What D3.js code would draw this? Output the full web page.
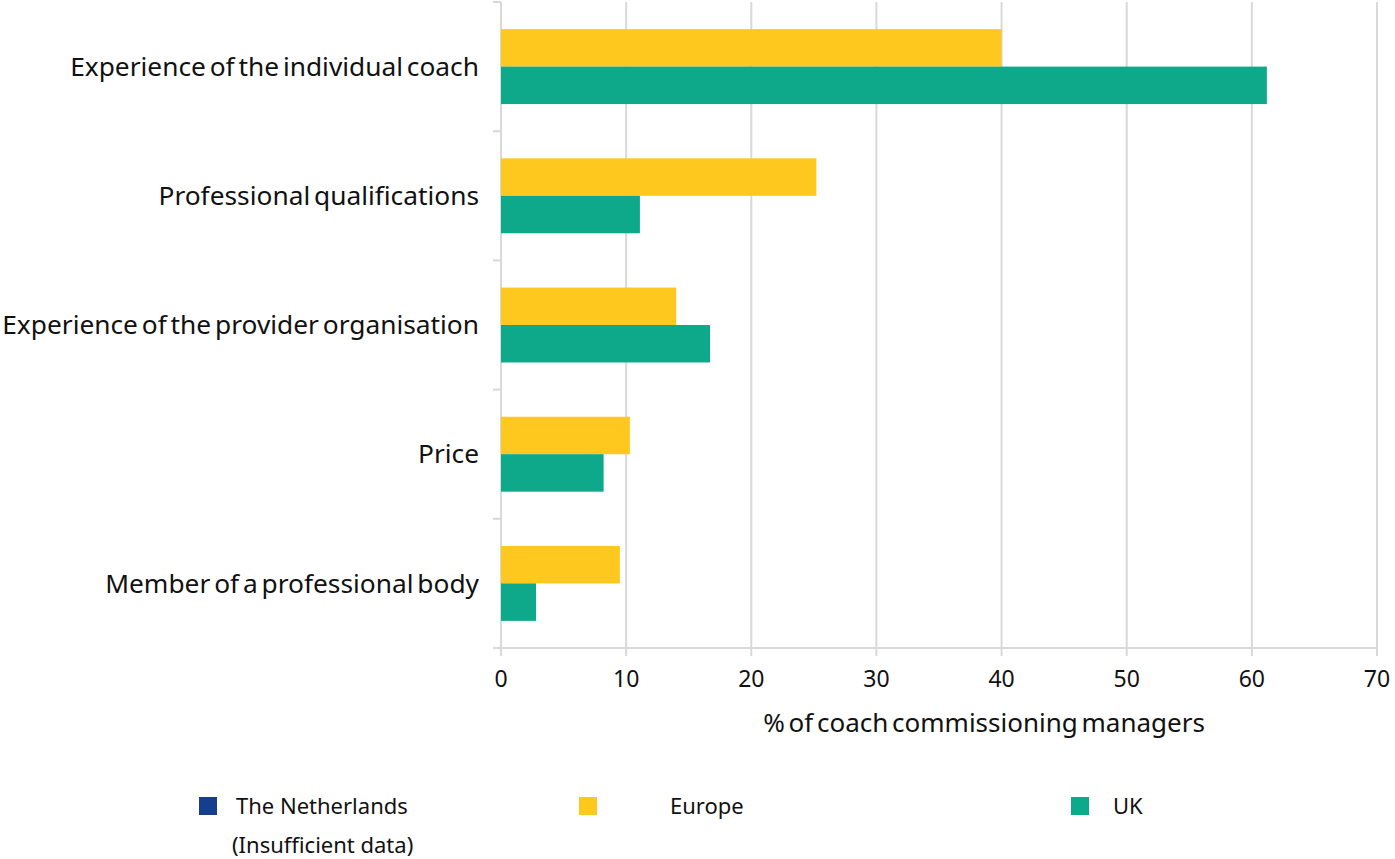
<!DOCTYPE html>
<html>
<head>
<meta charset="utf-8">
<script src="https://cdn.jsdelivr.net/npm/d3@7"></script>
<style>
  body { margin: 0; background: #fff; }
  svg { font-family: "Noto Sans", sans-serif; }
</style>
</head>
<body>
<svg id="chart" width="1395" height="859"></svg>
<script>
// values
const categories = [
  'Experience of the individual coach',
  'Professional qualifications',
  'Experience of the provider organisation',
  'Price',
  'Member of a professional body'
]
const series = ['Europe', 'UK']
const europe = [40.0, 25.2, 14.0, 10.3, 9.5]
const uk = [61.2, 11.1, 16.7, 8.2, 2.8]
const xTicks = [0, 10, 20, 30, 40, 50, 60, 70]
const legendItems = [
  { label: 'The Netherlands', sub: '(Insufficient data)', color: '#163e8e' },
  { label: 'Europe', color: '#fec81f' },
  { label: 'UK', color: '#0da98a' }
]
const colors = { Europe: '#fec81f', UK: '#0da98a' }

const margin = { top: 2, left: 501, right: 18, bottom: 211 }
const width = 1395
const height = 859
const innerW = width - margin.left - margin.right
const innerH = height - margin.top - margin.bottom

const svg = d3.select('#chart')
const g = svg.append('g').attr('transform', `translate(${margin.left},${margin.top})`)

const x = d3.scaleLinear().domain([0, 70]).range([0, innerW])
const y = d3.scaleBand().domain(categories).range([0, innerH]).paddingInner(0.42).paddingOuter(0.21)
const ySub = d3.scaleBand().domain(series).range([0, y.bandwidth()])

// gridlines
g.append('g')
  .selectAll('line')
  .data(xTicks)
  .join('line')
  .attr('x1', d => x(d)).attr('x2', d => x(d))
  .attr('y1', 0).attr('y2', innerH + 8)
  .attr('stroke', '#d9d9d9')
  .attr('stroke-width', 2)

// left axis with ticks between categories
g.append('line')
  .attr('x1', 0).attr('x2', 0).attr('y1', 0).attr('y2', innerH)
  .attr('stroke', '#d9d9d9').attr('stroke-width', 2)
g.append('g')
  .selectAll('line')
  .data(d3.range(categories.length + 1).map(i => i * innerH / categories.length))
  .join('line')
  .attr('x1', -8).attr('x2', 0)
  .attr('y1', d => d).attr('y2', d => d)
  .attr('stroke', '#d9d9d9').attr('stroke-width', 2)

// bottom axis line
g.append('line')
  .attr('x1', -8).attr('x2', innerW).attr('y1', innerH).attr('y2', innerH)
  .attr('stroke', '#d9d9d9').attr('stroke-width', 2)

// bars
const rows = categories.map((c, i) => ({ cat: c, Europe: europe[i], UK: uk[i] }))
g.append('g')
  .selectAll('g')
  .data(rows)
  .join('g')
  .attr('transform', d => `translate(0,${y(d.cat)})`)
  .selectAll('rect')
  .data(d => series.map(s => ({ key: s, value: d[s] })))
  .join('rect')
  .attr('x', 0)
  .attr('y', d => ySub(d.key))
  .attr('width', d => x(d.value))
  .attr('height', ySub.bandwidth())
  .attr('fill', d => colors[d.key])

// category labels
g.append('g')
  .selectAll('text')
  .data(categories)
  .join('text')
  .attr('x', -22)
  .attr('y', d => y(d) + y.bandwidth() / 2)
  .attr('dy', '0.35em')
  .attr('text-anchor', 'end')
  .attr('font-size', 26.3)
  .attr('word-spacing', -3)
  .attr('fill', '#111')
  .text(d => d)

// x tick labels
g.append('g')
  .selectAll('text')
  .data(xTicks)
  .join('text')
  .attr('x', d => x(d))
  .attr('y', innerH + 39)
  .attr('text-anchor', 'middle')
  .attr('font-size', 23)
  .attr('fill', '#111')
  .text(d => d)

// x axis title
g.append('text')
  .attr('x', x(38.6))
  .attr('y', innerH + 84)
  .attr('text-anchor', 'middle')
  .attr('font-size', 26)
  .attr('word-spacing', -3)
  .attr('fill', '#111')
  .text('% of coach commissioning managers')

// legend
const legendX = [199, 579, 1071]
const legendTextX = [236, 670, 1113]
const legend = svg.append('g')
legendItems.forEach((item, i) => {
  legend.append('rect')
    .attr('x', legendX[i]).attr('y', 797)
    .attr('width', 18).attr('height', 18)
    .attr('fill', item.color)
  legend.append('text')
    .attr('x', legendTextX[i]).attr('y', 814)
    .attr('font-size', 22).attr('fill', '#111')
    .text(item.label)
  if (item.sub) {
    legend.append('text')
      .attr('x', legendTextX[i] - 4).attr('y', 853)
      .attr('font-size', 22).attr('fill', '#111')
      .text(item.sub)
  }
})
</script>
</body>
</html>
